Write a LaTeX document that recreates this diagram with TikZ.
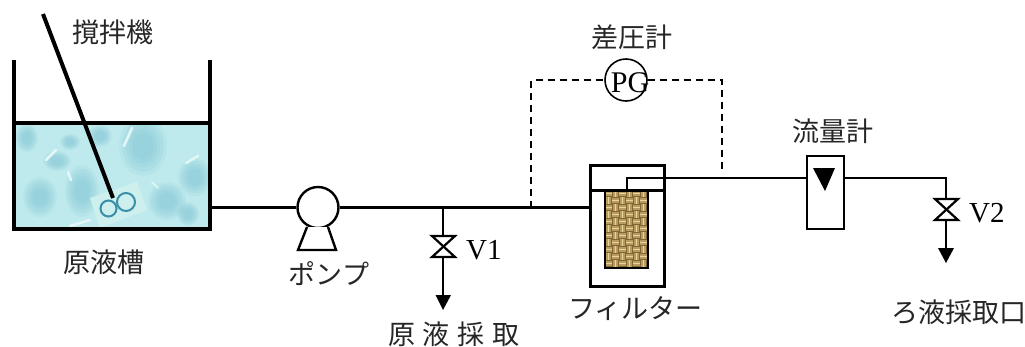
\documentclass[tikz,border=0pt]{standalone}
\usepackage{fontspec}
\setmainfont{Liberation Serif}
\newfontfamily\jp{Noto Sans CJK JP}
\usetikzlibrary{calc}
\definecolor{waterbase}{HTML}{BFEAED}
\definecolor{waterlight}{HTML}{E2F7F6}
\definecolor{waterdark}{HTML}{76BECF}
\definecolor{patchcol}{HTML}{CDF0EF}
\definecolor{impcol}{HTML}{3A8EA8}
\definecolor{tanbase}{HTML}{B99B62}
\definecolor{tanlight}{HTML}{E6D69C}
\definecolor{tandark}{HTML}{7F6634}
\tikzset{
  x=1pt,y=-1pt,
  pipe/.style={line width=2.6pt},
  wall/.style={line width=3.6pt,line cap=butt},
  dashline/.style={line width=1.6pt,dash pattern=on 7pt off 5pt},
  jplabel/.style={inner sep=0pt,font=\fontsize{27}{27}\selectfont\jp,text=black!85},
  latlabel/.style={inner sep=0pt,font=\fontsize{29}{29}\selectfont},
  blob/.style={fill=waterdark,draw=none,opacity=.13},
  streak/.style={line width=2.5pt,draw=waterlight,line cap=round},
  valveshape/.style={draw,line width=2.2pt,fill=white,line join=miter},
  headfill/.style={fill=black,draw=none},
  roundbody/.style={circle,draw,line width=2.4pt,fill=white,minimum size=41pt,inner sep=0pt},
  boxline/.style={draw,line width=3pt},
}
\begin{document}
\begin{tikzpicture}
\useasboundingbox (0,0) rectangle (1025,346);
% water
\begin{scope}
\clip (14,123) rectangle (210,229);
\fill[waterbase] (14,123) rectangle (210,229);
\foreach \bx/\by/\brx/\bry in {143/146/24/30,195/177/17/19,40/197/17/20,82/191/17/26,167/201/19/19,188/214/11/12,27/138/11/14,57/161/14/10,100/136/12/11,70/142/10/8}
  \foreach \s in {1,.86,.72,.58,.44}
    \fill[blob] (\bx,\by) ellipse [x radius=\s*\brx,y radius=\s*\bry];
\draw[streak] (132,128) -- (124,146);
\draw[streak] (46,160) -- (56,150);
\draw[streak] (186,163) -- (198,156);
\draw[streak] (68,172) -- (71,180);
\draw[streak] (70,226) -- (90,220);
\draw[streak,line width=1.5pt] (152,182) -- (158,188);
\end{scope}
% impeller patch
\fill[patchcol] (90,198) -- (137,182) -- (147,210) -- (100,228) -- cycle;
\draw[impcol,line width=2pt] (108.5,208.5) circle [radius=8];
\draw[impcol,line width=2pt] (126,202) circle [radius=9];
% tank
\coordinate (tankTL) at (14,60);
\coordinate (tankBL) at (14,229);
\coordinate (tankBR) at (210,229);
\coordinate (tankTR) at (210,60);
\coordinate (waterL) at (14,123);
\coordinate (waterR) at (210,123);
\coordinate (tankOut) at (212,207.5);
\draw[wall,line join=miter] (tankTL) -- (tankBL) -- (tankBR) -- (tankTR);
\draw[wall] (waterL) -- (waterR);
% stirrer
\coordinate (stirA) at (43,14);
\coordinate (stirB) at (113,198);
\draw[line width=4pt] (stirA) -- (stirB);
% pump
\node[roundbody] (pump) at (318,207.5) {};
\draw[line width=2.4pt,line join=miter,fill=white] (307,227) -- (298,250) -- (336,250) -- (328,227);
\draw[pipe] (tankOut) -- (pump.west);
% filter
\node[boxline,fill=white,minimum width=74pt,minimum height=121pt,inner sep=0pt,outer sep=0pt] (filter) at (627,225.5) {};
\coordinate (divL) at (590,190);
\coordinate (divR) at (664,190);
\begin{scope}
\clip (605,190) rectangle (648,268);
\fill[tanbase] (605,190) rectangle (648,268);
\foreach \i in {0,...,6}{
 \foreach \j in {0,...,11}{
  \pgfmathsetmacro{\cx}{605+\i*7}
  \pgfmathsetmacro{\cy}{190+\j*7}
  \pgfmathtruncatemacro{\wv}{mod(\i+\j,2)}
  \ifnum\wv=0
    \draw[tandark,line width=.9pt] (\cx,\cy+.5) -- ++(7,0);
    \draw[tanlight,line width=1.6pt] (\cx,\cy+3.5) -- ++(7,0);
    \draw[tandark,line width=.9pt] (\cx,\cy+6.5) -- ++(7,0);
  \else
    \draw[tandark,line width=.9pt] (\cx+.5,\cy) -- ++(0,7);
    \draw[tanlight,line width=1.6pt] (\cx+3.5,\cy) -- ++(0,7);
    \draw[tandark,line width=.9pt] (\cx+6.5,\cy) -- ++(0,7);
  \fi
 }
}
\end{scope}
\draw[line width=1.8pt] (605,190) -- (605,268) -- (648,268) -- (648,190);
\draw[line width=3pt] (divL) -- (divR);
% main pipe
\coordinate (j1) at (443,207.5);
\coordinate (j2) at (531,207.5);
\draw[pipe] (pump.east) -- (j1) -- (j2) -- (filter.west |- j2);
% V1
\coordinate (v1top) at (443,236);
\coordinate (v1bot) at (443,257);
\coordinate (v1tip) at (443,310);
\draw[pipe] (j1) -- (v1top);
\draw[valveshape] (432,236) -- (455,236) -- (432,257) -- (455,257) -- cycle;
\draw[pipe] (v1bot) -- (443,296);
\fill[headfill] (435.5,295) -- (451,295) -- (v1tip) -- cycle;
\node[latlabel,anchor=base west] (v1lab) at (466,259) {V1};
% flowmeter
\node[draw,line width=2.2pt,fill=white,minimum width=37pt,minimum height=73pt,inner sep=0pt,outer sep=0pt] (flow) at (825.5,192.5) {};
\fill[headfill] (813,168) -- (835,168) -- (825,191) -- cycle;
% outlet
\coordinate (outA) at (627,190);
\coordinate (outB) at (627,178);
\coordinate (j3) at (722,178);
\draw[pipe,line join=miter] (outA) -- (outB) -- (j3) -- (flow.west |- j3);
% V2
\coordinate (v2c) at (946,178);
\coordinate (v2top) at (946,199);
\coordinate (v2bot) at (946,220);
\coordinate (v2tip) at (946,263);
\draw[pipe,line join=miter] (flow.east |- v2c) -- (v2c) -- (v2top);
\draw[valveshape] (935,199) -- (958,199) -- (935,220) -- (958,220) -- cycle;
\draw[pipe] (v2bot) -- (946,249);
\fill[headfill] (938,248) -- (954,248) -- (v2tip) -- cycle;
\node[latlabel,anchor=base west] (v2lab) at (969,222) {V2};
% differential pressure gauge
\node[circle,draw,line width=1.6pt,minimum size=42pt,inner sep=0pt] (pg) at (626,80) {};
\node[latlabel,font=\fontsize{30}{30}\selectfont] (pgtext) at (630,83) {PG};
\coordinate (dl) at (531,80);
\coordinate (dr) at (722,80);
\coordinate (dre) at (722,172);
\draw[dashline] (j2) -- (dl) -- (pg.west);
\draw[dashline] (pg.east) -- (dr) -- (dre);
% labels
\node[jplabel] (l1) at (112.5,32) {撹拌機};
\node[jplabel] (l2) at (103.5,262) {原液槽};
\node[jplabel] (l3) at (329,274) {ポンプ};
\node[jplabel] (l4) at (454,334) {原\hspace{8pt}液\hspace{8pt}採\hspace{8pt}取};
\node[jplabel] (l5) at (631.5,37) {差圧計};
\node[jplabel] (l6) at (635.5,309) {フィルター};
\node[jplabel] (l7) at (832.5,131) {流量計};
\node[jplabel] (l8) at (959,312) {ろ液採取口};
\end{tikzpicture}
\end{document}
